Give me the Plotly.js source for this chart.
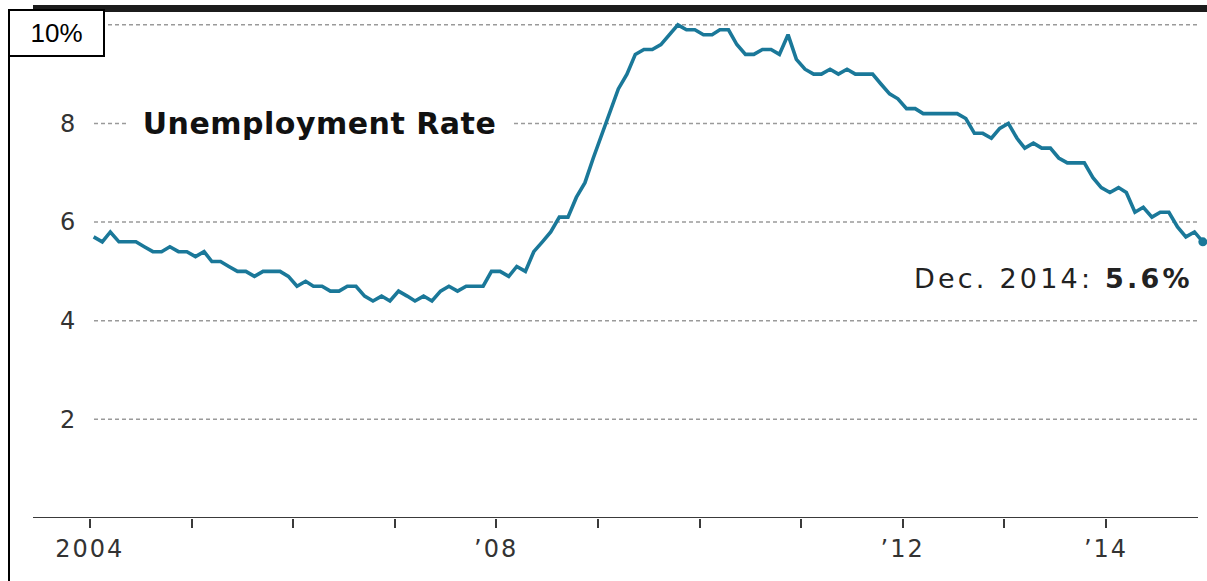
<!DOCTYPE html>
<html>
<head>
<meta charset="utf-8">
<script src="https://cdn.plot.ly/plotly-3.0.1.min.js"></script>
<style>
html,body{margin:0;padding:0;background:#fff;}
#chart{width:1207px;height:581px;}
.xtick text{letter-spacing:2px;}
g.annotation[data-index="1"] text{letter-spacing:0.5px;}
g.annotation[data-index="2"] text{letter-spacing:3.2px;}
</style>
</head>
<body>
<div id="chart"></div>
<script>
// Monthly US unemployment rate (%), Jan–Dec of each year
const startYear = 2004;
const rate2004 = [5.7,5.6,5.8,5.6,5.6,5.6,5.5,5.4,5.4,5.5,5.4,5.4];
const rate2005 = [5.3,5.4,5.2,5.2,5.1,5.0,5.0,4.9,5.0,5.0,5.0,4.9];
const rate2006 = [4.7,4.8,4.7,4.7,4.6,4.6,4.7,4.7,4.5,4.4,4.5,4.4];
const rate2007 = [4.6,4.5,4.4,4.5,4.4,4.6,4.7,4.6,4.7,4.7,4.7,5.0];
const rate2008 = [5.0,4.9,5.1,5.0,5.4,5.6,5.8,6.1,6.1,6.5,6.8,7.3];
const rate2009 = [7.8,8.3,8.7,9.0,9.4,9.5,9.5,9.6,9.8,10.0,9.9,9.9];
const rate2010 = [9.8,9.8,9.9,9.9,9.6,9.4,9.4,9.5,9.5,9.4,9.8,9.3];
const rate2011 = [9.1,9.0,9.0,9.1,9.0,9.1,9.0,9.0,9.0,8.8,8.6,8.5];
const rate2012 = [8.3,8.3,8.2,8.2,8.2,8.2,8.2,8.1,7.8,7.8,7.7,7.9];
const rate2013 = [8.0,7.7,7.5,7.6,7.5,7.5,7.3,7.2,7.2,7.2,6.9,6.7];
const rate2014 = [6.6,6.7,6.6,6.2,6.3,6.1,6.2,6.2,5.9,5.7,5.8,5.6];
const yearlyRates = [rate2004,rate2005,rate2006,rate2007,rate2008,rate2009,rate2010,rate2011,rate2012,rate2013,rate2014];

const xTickVals = ['2004-01-01','2005-01-01','2006-01-01','2007-01-01','2008-01-01','2009-01-01','2010-01-01','2011-01-01','2012-01-01','2013-01-01','2014-01-01'];
const xTickText = ['2004','','','','\u201908','','','','\u201912','','\u201914'];
const yTickVals = [2,4,6,8];
const yTickText = ['2','4','6','8'];
const gridVals = [2,4,6,8,10];
const titleText = 'Unemployment Rate';
const lastLabel = 'Dec. 2014: <b>5.6%</b>';
const unitLabel = '10%';

// build month dates and values
const dates = [], rates = [];
yearlyRates.forEach((arr, i) => {
  arr.forEach((v, m) => {
    const mm = String(m + 1).padStart(2, '0');
    dates.push((startYear + i) + '-' + mm + '-15');
    rates.push(v);
  });
});

// layout geometry helpers
const W = 1207, H = 581, L = 33, R = 0, T = 12, B = 63;
const PW = W - L - R, PH = H - T - B;
const px = x => (x - L) / PW;
const py = y => (H - B - y) / PH;

const lineColor = '#1a7899';

const traces = [
  {x: dates, y: rates, type: 'scatter', mode: 'lines',
   line: {color: lineColor, width: 3.6}, hoverinfo: 'skip', cliponaxis: false},
  {x: [dates[dates.length - 1]], y: [rates[rates.length - 1]], type: 'scatter', mode: 'markers',
   marker: {color: lineColor, size: 9}, hoverinfo: 'skip', cliponaxis: false}
];

const shapes = [];
gridVals.forEach(v => shapes.push({
  type: 'line', xref: 'paper', yref: 'y', x0: px(94), x1: px(1198), y0: v, y1: v,
  line: {color: '#9a9a9a', width: 1.5, dash: '4px,3px'}, layer: 'below'
}));
// x axis line
shapes.push({type: 'line', xref: 'paper', yref: 'y', x0: 0, x1: px(1198), y0: 0, y1: 0,
  line: {color: '#3a3a3a', width: 2}});
// top black bar
shapes.push({type: 'rect', xref: 'paper', yref: 'paper', x0: 0, x1: 1, y0: py(12), y1: py(5),
  fillcolor: '#1c1c1c', line: {width: 0}});
// left frame line
shapes.push({type: 'line', xref: 'paper', yref: 'paper', x0: px(9), x1: px(9), y0: py(584), y1: py(9),
  line: {color: '#000', width: 2}});

const annotations = [
  {text: unitLabel, xref: 'paper', yref: 'paper', x: px(8), y: py(9), xanchor: 'left', yanchor: 'top',
   showarrow: false, width: 93, height: 44, bgcolor: '#fff', bordercolor: '#000', borderwidth: 2, borderpad: 0,
   font: {family: 'Liberation Sans, Arial, sans-serif', size: 26, color: '#000'}},
  {text: titleText, xref: 'paper', yref: 'y', x: px(146 - 20), y: 8, xanchor: 'left', yanchor: 'middle',
   showarrow: false, bgcolor: '#fff', borderpad: 20,
   font: {family: 'DejaVu Sans, sans-serif', size: 30, color: '#111', weight: 700}},
  {text: lastLabel, xref: 'paper', yref: 'paper', x: px(912), y: py(278), xanchor: 'left', yanchor: 'middle',
   align: 'left', showarrow: false,
   font: {family: 'DejaVu Sans, sans-serif', size: 27, color: '#222'}}
];

const layout = {
  width: W, height: H,
  margin: {l: L, r: R, t: T, b: B, pad: 0},
  paper_bgcolor: '#fff', plot_bgcolor: '#fff',
  showlegend: false,
  xaxis: {
    type: 'date', range: ['2003-06-11', '2014-12-30'],
    tickvals: xTickVals, ticktext: xTickText,
    ticks: 'outside', ticklen: 9, tickwidth: 2, tickcolor: '#3a3a3a',
    showgrid: false, zeroline: false, showline: false,
    tickfont: {family: 'DejaVu Sans, sans-serif', size: 24, color: '#333'},
    fixedrange: true
  },
  yaxis: {
    range: [0, 10.26],
    tickvals: yTickVals, ticktext: yTickText,
    ticks: '', ticklabelposition: 'inside', ticklabelstandoff: 24,
    showgrid: false, zeroline: false, showline: false,
    tickfont: {family: 'DejaVu Sans, sans-serif', size: 24, color: '#333'},
    fixedrange: true
  },
  shapes: shapes,
  annotations: annotations
};

Plotly.newPlot('chart', traces, layout, {displayModeBar: false, staticPlot: true});
</script>
</body>
</html>
